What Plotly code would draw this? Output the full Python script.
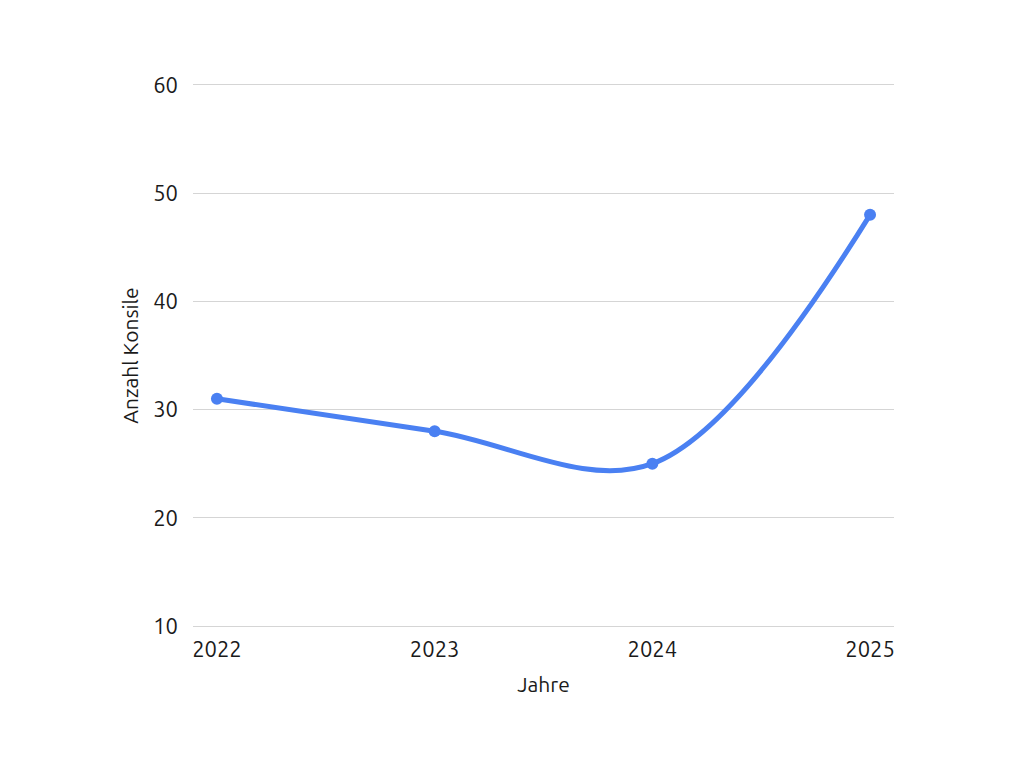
import plotly.graph_objects as go

years = ["2022", "2023", "2024", "2025"]
konsile = [31, 28, 25, 48]

fig = go.Figure()
fig.add_trace(go.Scatter(
    x=years, y=konsile, mode="lines+markers",
    line=dict(color="#4a80f2", width=5, shape="spline", smoothing=1),
    marker=dict(color="#4a80f2", size=12),
    showlegend=False,
))
fig.update_layout(
    width=1024, height=768,
    paper_bgcolor="white", plot_bgcolor="white",
    margin=dict(l=185, r=138, t=77, b=150),
    font=dict(family="Ubuntu, Open Sans, sans-serif", size=18, color="#1a1a1a"),
    xaxis=dict(title=dict(text="Jahre", standoff=16, font=dict(size=21)),
               range=[-0.11, 3.11], tickfont=dict(size=22), ticklabelstandoff=4,
               showgrid=False, zeroline=False, ticks="",
               showline=True, mirror=True, linecolor="#d5d5d5", linewidth=1),
    yaxis=dict(title=dict(text="Anzahl Konsile", standoff=8, font=dict(size=21)),
               range=[10, 60], tickfont=dict(size=22), tickvals=[10, 20, 30, 40, 50, 60],
               ticklabelstandoff=14,
               gridcolor="#d5d5d5", gridwidth=1, zeroline=False,
               ticks="", showline=False),
)
fig.write_html("out.html")
